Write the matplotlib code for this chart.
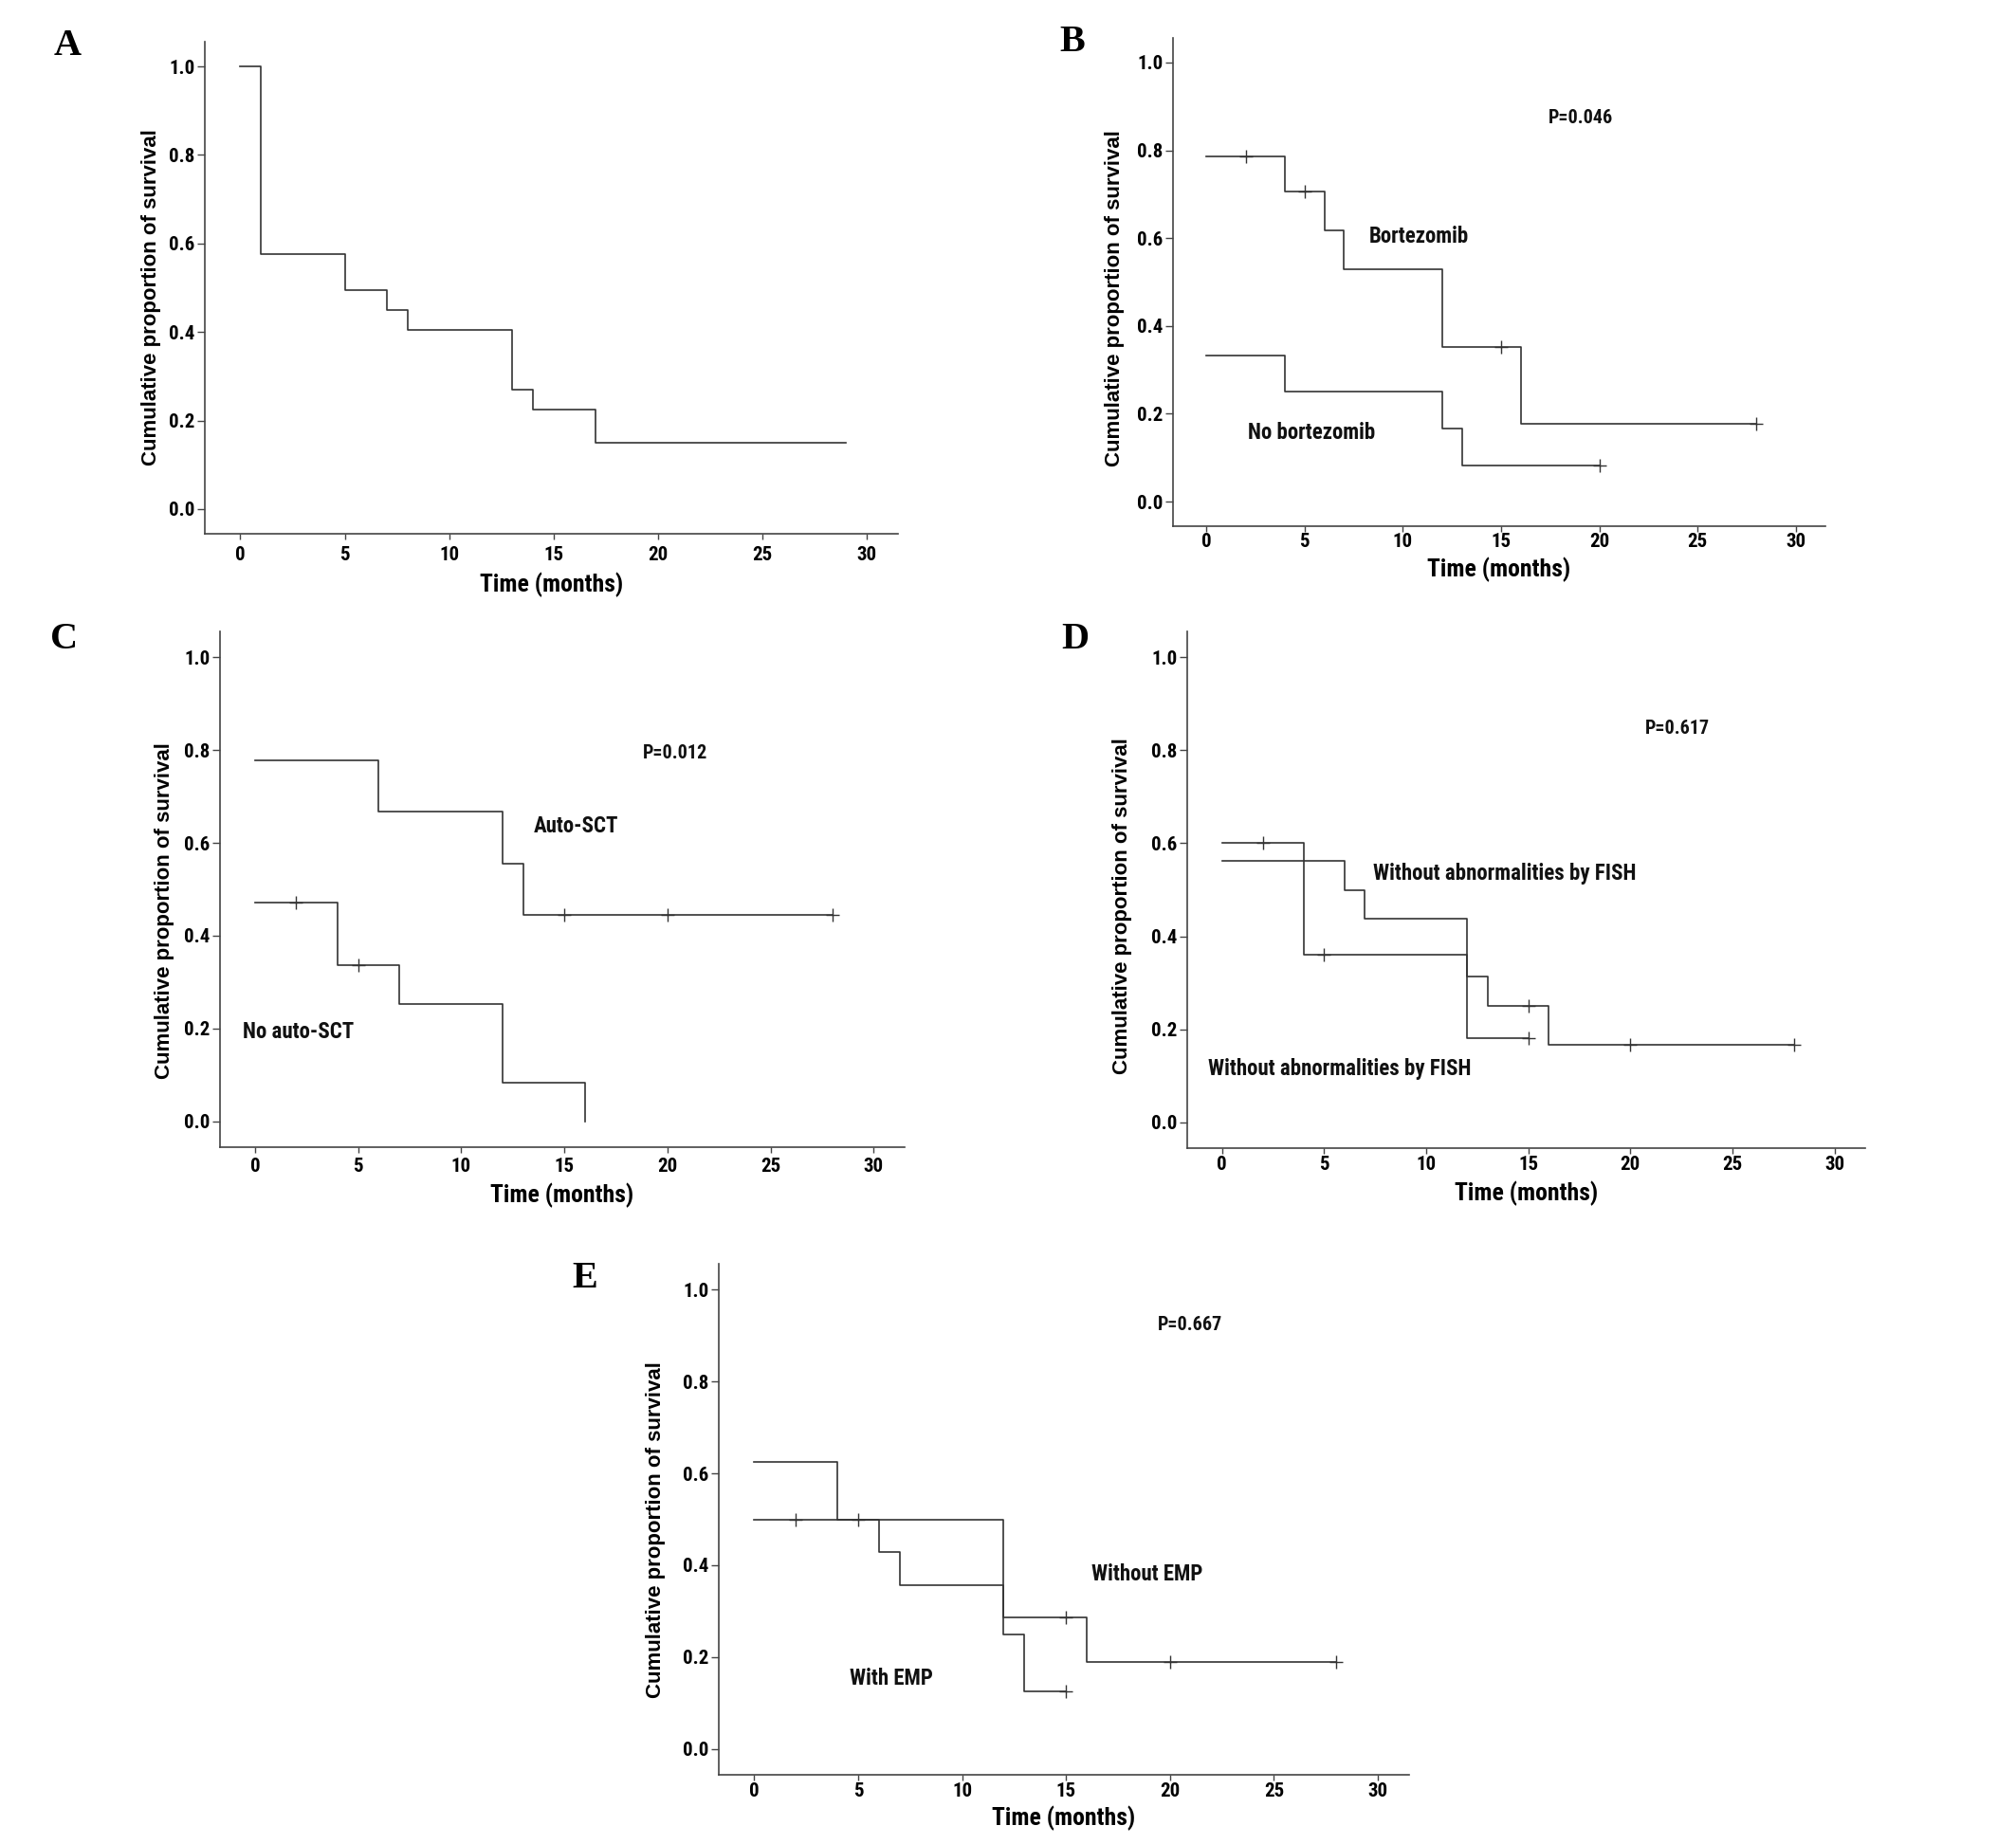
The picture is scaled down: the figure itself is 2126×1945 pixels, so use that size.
import numpy as np
import matplotlib
matplotlib.use("Agg")
import matplotlib.pyplot as plt
from matplotlib import font_manager

# ---------------- data ----------------
# Panel A
a_t = [0, 1, 5, 7, 8, 13, 14, 17, 29]
a_s = [1.0, 0.577, 0.495, 0.449, 0.404, 0.269, 0.225, 0.150, 0.150]
a_c = []

# Panel B
b1_t = [0, 4, 6, 7, 12, 16, 28]
b1_s = [0.786, 0.707, 0.618, 0.530, 0.353, 0.177, 0.177]
b1_c = [2, 5, 15, 28]
b2_t = [0, 4, 12, 13, 20]
b2_s = [0.333, 0.250, 0.167, 0.083, 0.083]
b2_c = [20]

# Panel C
c1_t = [0, 6, 12, 13, 28]
c1_s = [0.778, 0.667, 0.556, 0.444, 0.444]
c1_c = [15, 20, 28]
c2_t = [0, 4, 7, 12, 16]
c2_s = [0.471, 0.336, 0.252, 0.084, 0.0]
c2_c = [2, 5]

# Panel D
d1_t = [0, 4, 12, 15]
d1_s = [0.600, 0.360, 0.180, 0.180]
d1_c = [2, 5, 15]
d2_t = [0, 6, 7, 12, 13, 16, 28]
d2_s = [0.5625, 0.500, 0.4375, 0.3125, 0.250, 0.167, 0.167]
d2_c = [15, 20, 28]

# Panel E
e1_t = [0, 4, 12, 16, 28]
e1_s = [0.625, 0.500, 0.286, 0.190, 0.190]
e1_c = [15, 20, 28]
e2_t = [0, 6, 7, 12, 13, 15]
e2_s = [0.500, 0.429, 0.357, 0.250, 0.125, 0.125]
e2_c = [2, 5, 15]

x_ticks = [0, 5, 10, 15, 20, 25, 30]
y_ticks = [0.0, 0.2, 0.4, 0.6, 0.8, 1.0]
x_label = "Time (months)"
y_label = "Cumulative proportion of survival"

# annotations: (text, x, y)
b_notes = [("P=0.046", 17.4, 0.874), ("Bortezomib", 8.3, 0.603), ("No bortezomib", 2.1, 0.157)]
c_notes = [("P=0.012", 18.8, 0.794), ("Auto-SCT", 13.5, 0.636), ("No auto-SCT", -0.6, 0.192)]
d_notes = [("P=0.617", 20.7, 0.846), ("Without abnormalities by FISH", 7.4, 0.535),
           ("Without abnormalities by FISH", -0.7, 0.115)]
e_notes = [("P=0.667", 19.4, 0.922), ("Without EMP", 16.2, 0.381), ("With EMP", 4.6, 0.153)]

# ---------------- fonts ----------------
def find_condensed():
    names = sorted({f.name for f in font_manager.fontManager.ttflist})
    for key in ["Liberation Sans Narrow", "Arial Narrow", "Roboto Condensed",
                "Open Sans Condensed", "DejaVu Sans Condensed"]:
        if key in names:
            return key
    for n in names:
        if "Narrow" in n or "Condensed" in n:
            return n
    return None


COND = find_condensed()
NARROW = ([COND] if COND else []) + ["Liberation Sans", "DejaVu Sans"]
STRETCH = "condensed"
SANS = ["Liberation Sans", "DejaVu Sans"]
SERIF = ["Liberation Serif", "DejaVu Serif"]
LC = "#333333"

W, H = 2126, 1945
fig = plt.figure(figsize=(W / 100, H / 100), dpi=100)
PX = 72 / 100  # points per pixel


def add_axes(l, r, t, b):
    return fig.add_axes([l / W, 1 - b / H, (r - l) / W, (b - t) / H])


def km(ax, t, s, cens):
    ax.step(t, s, where="post", color=LC, lw=1.2)
    if cens:
        idx = np.searchsorted(t, cens, side="right") - 1
        cy = np.array(s)[idx]
        ax.plot(cens, cy, ls="none", marker="+", ms=10, mew=1.0, color=LC)


def style(ax, box, tick_lab_px, xlab_px, ylab_px, ylab_frac):
    l, r, t, b = box
    ax.set_xlim(-1.7, 31.5)
    ax.set_ylim(-0.056, 1.056)
    for sp in ["top", "right"]:
        ax.spines[sp].set_visible(False)
    for sp in ["left", "bottom"]:
        ax.spines[sp].set_color("#444444")
        ax.spines[sp].set_linewidth(1.2)
    ax.set_xticks(x_ticks)
    ax.set_yticks(y_ticks)
    ax.set_yticklabels([f"{v:.1f}" for v in y_ticks])
    tick_len = 4.5
    ax.tick_params(axis="y", direction="out", length=5.5, width=1, color="#444444", pad=2)
    xpad = max((tick_lab_px - tick_len / PX - 11) * PX, 0.5)
    ax.tick_params(axis="x", direction="out", length=tick_len, width=1, color="#444444", pad=xpad)
    for lab in ax.get_xticklabels() + ax.get_yticklabels():
        lab.set_fontfamily(NARROW)
        lab.set_fontstretch(STRETCH)
        lab.set_fontweight("bold")
        lab.set_fontsize(15)
    ax.set_xlabel(x_label, fontfamily=NARROW, fontstretch=STRETCH, fontweight="bold",
                  fontsize=18.5)
    ax.xaxis.set_label_coords(0.5, -xlab_px / (b - t))
    ax.xaxis.label.set_va("center")
    ax.set_ylabel(y_label, fontfamily=SANS, fontweight="bold", fontsize=16)
    ax.yaxis.set_label_coords(-ylab_px / (r - l), ylab_frac)
    ax.yaxis.label.set_va("center")


def notes(ax, items):
    for txt, x, y in items:
        fs = 14.5 if txt.startswith("P=") else 16.5
        ax.text(x, y, txt, fontfamily=NARROW, fontstretch=STRETCH, fontweight="bold",
                fontsize=fs, ha="left", va="center", color="#111111")


boxA = (216, 947, 44, 563)
axA = add_axes(*boxA)
km(axA, a_t, a_s, a_c)
style(axA, boxA, 24, 54, 56, 0.480)

boxB = (1237, 1925, 40, 555)
axB = add_axes(*boxB)
km(axB, b1_t, b1_s, b1_c)
km(axB, b2_t, b2_s, b2_c)
style(axB, boxB, 17, 46, 61, 0.466)
notes(axB, b_notes)

boxC = (232, 954, 666, 1210)
axC = add_axes(*boxC)
km(axC, c1_t, c1_s, c1_c)
km(axC, c2_t, c2_s, c2_c)
style(axC, boxC, 22, 51, 59, 0.459)
notes(axC, c_notes)

boxD = (1252, 1967, 666, 1211)
axD = add_axes(*boxD)
km(axD, d1_t, d1_s, d1_c)
km(axD, d2_t, d2_s, d2_c)
style(axD, boxD, 19, 48, 69, 0.468)
notes(axD, d_notes)

boxE = (758, 1486, 1333, 1872)
axE = add_axes(*boxE)
km(axE, e1_t, e1_s, e1_c)
km(axE, e2_t, e2_s, e2_c)
style(axE, boxE, 19, 46, 67, 0.480)
notes(axE, e_notes)

for letter, x, y in [("A", 71, 48), ("B", 1131, 45), ("C", 68, 675), ("D", 1134, 675), ("E", 617, 1349)]:
    fig.text(x / W, 1 - y / H, letter, fontfamily=SERIF, fontweight="bold", fontsize=29,
             ha="center", va="center")

fig.savefig("out.png", dpi=100)
